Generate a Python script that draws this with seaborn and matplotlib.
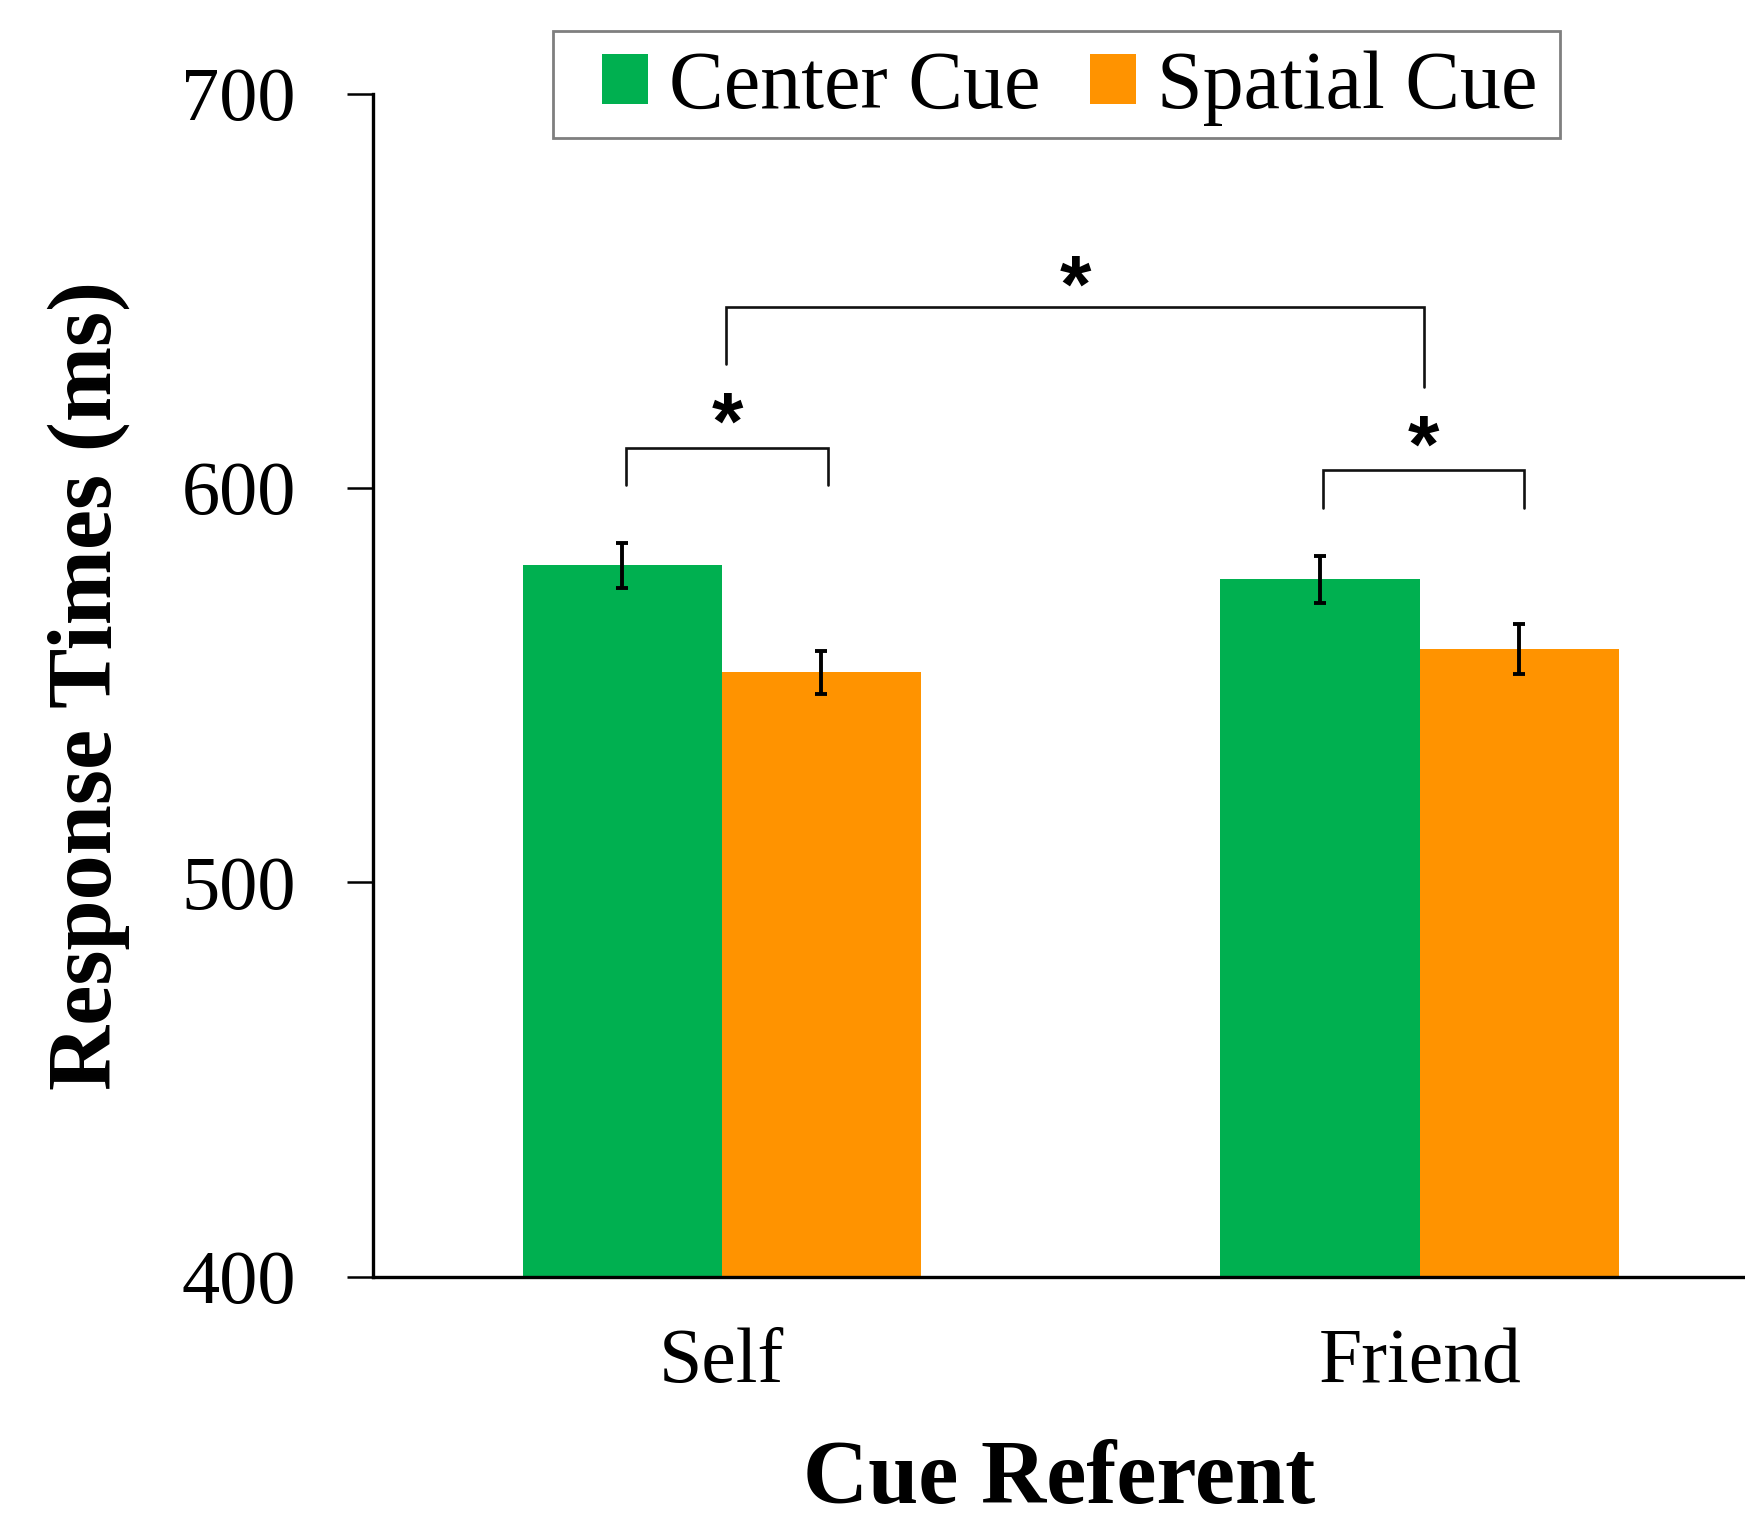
import matplotlib
matplotlib.use("Agg")
import matplotlib.pyplot as plt
from matplotlib.patches import Rectangle
import seaborn as sns
import pandas as pd

# Mean response times (ms) and standard errors per condition
referents = ["Self", "Friend"]
cues = ["Center Cue", "Spatial Cue"]
center_rt = [580.4, 576.8]
spatial_rt = [553.2, 559.2]
center_se = [5.7, 6.0]
spatial_se = [5.5, 6.3]
y_ticks = [400, 500, 600, 700]

df = pd.DataFrame({
    "referent": referents * 2,
    "cue": [cues[0]] * 2 + [cues[1]] * 2,
    "rt": center_rt + spatial_rt,
    "se": center_se + spatial_se,
})

sns.set_theme(style="white")
plt.rcParams["font.family"] = ["Liberation Serif", "DejaVu Serif"]
plt.rcParams["text.color"] = "black"
plt.rcParams["axes.labelcolor"] = "black"
plt.rcParams["xtick.color"] = "black"
plt.rcParams["ytick.color"] = "black"

W, H, DPI = 1745, 1522, 100
fig = plt.figure(figsize=(W / DPI, H / DPI), dpi=DPI)
ax = fig.add_axes([372.8 / W, 1 - 1276.5 / H, 1 - 372.8 / W, (1276.5 - 93.5) / H])

palette = {"Center Cue": "#00B050", "Spatial Cue": "#FF9300"}
sns.barplot(data=df, x="referent", y="rt", hue="cue", order=referents,
            hue_order=cues, palette=palette, saturation=1, width=0.571,
            errorbar=None, ax=ax, linewidth=0)

# Standard error bars placed on the drawn bars
for cont, cue in zip(ax.containers, cues):
    sub = df[df["cue"] == cue].set_index("referent").loc[referents]
    xs = [p.get_x() + p.get_width() / 2 for p in cont.patches]
    ax.errorbar(xs, sub["rt"].values, yerr=sub["se"].values, fmt="none",
                ecolor="black", elinewidth=2.8, capsize=4.6, capthick=2.8, zorder=5)

ax.set_ylim(400, 700)
ax.set_xlim(-0.5, 1.466)
ax.set_yticks(y_ticks)
ax.set_yticklabels([str(t) for t in y_ticks])

for s in ["top", "right"]:
    ax.spines[s].set_visible(False)
for s in ["left", "bottom"]:
    ax.spines[s].set_linewidth(2.4)
    ax.spines[s].set_color("black")

ax.tick_params(axis="y", direction="out", length=18.4, width=1.8, color="black",
               pad=37, labelsize=55, left=True, labelcolor="black")
ax.tick_params(axis="x", length=0, pad=37, labelsize=56, labelcolor="black")

bold = dict(fontweight="bold", color="black")
ax.set_xlabel("Cue Referent", fontsize=65, **bold)
ax.set_ylabel("Response Times (ms)", fontsize=65, **bold)
ax.xaxis.set_label_coords(0.5, -0.1385)
ax.yaxis.label.set_va("center")
ax.yaxis.set_label_coords(-0.207, 0.5)

# Significance brackets
def bracket(x0, x1, y_top, y0, y1, star_y):
    ax.plot([x0, x0, x1, x1], [y0, y_top, y_top, y1], color="#111111",
            lw=1.9, zorder=6, solid_joinstyle="miter")
    ax.text((x0 + x1) / 2, star_y, "*", ha="center", va="center",
            fontsize=58, fontweight="bold", color="black",
            family=["Liberation Sans", "DejaVu Sans"])

bracket(-0.137, 0.152, 610.2, 600.6, 600.6, 615.3)
bracket(0.861, 1.150, 604.6, 595.0, 595.0, 609.4)
bracket(0.006, 1.006, 645.8, 631.4, 625.5, 650.0)

# Legend across the top, with a plain grey box behind it
handles, labels = ax.get_legend_handles_labels()
if ax.get_legend() is not None:
    ax.get_legend().remove()
leg = ax.legend(handles, labels, ncol=2, loc="center",
                bbox_to_anchor=(1070.0 / W, 1 - 88.5 / H),
                bbox_transform=fig.transFigure, fontsize=59, frameon=False,
                handlelength=0.56, handleheight=0.56, handletextpad=0.26,
                columnspacing=0.6, borderpad=0.2, borderaxespad=0)
for t in leg.get_texts():
    t.set_color("black")
fig.patches.append(Rectangle((553.1 / W, 1 - 138.0 / H), (1560.3 - 553.1) / W,
                             (138.0 - 31.2) / H, transform=fig.transFigure,
                             facecolor="none", edgecolor="#7f7f7f", lw=2.0,
                             zorder=10))

fig.savefig("out.png", dpi=DPI)
